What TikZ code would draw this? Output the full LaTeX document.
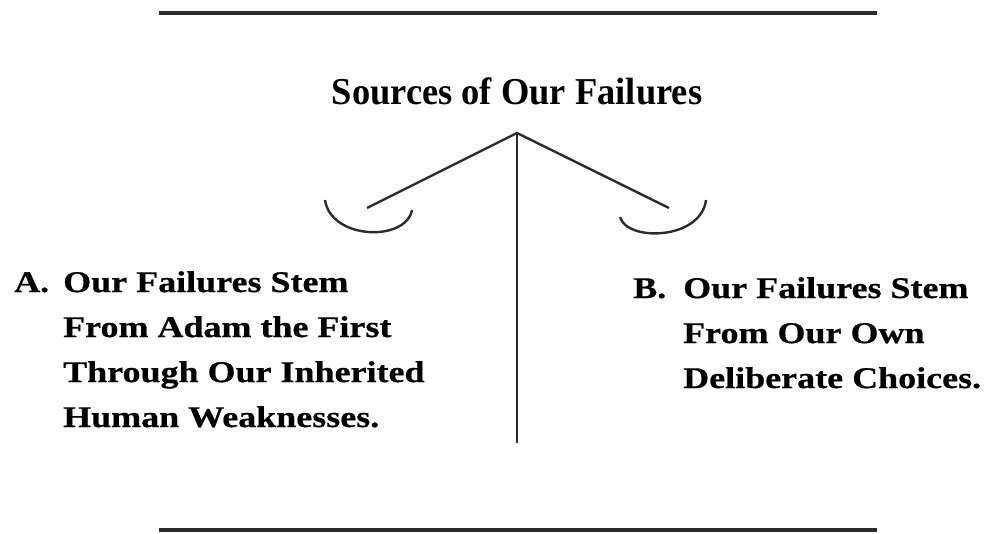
\documentclass[tikz,border=0pt]{standalone}
\usepackage{fontspec}
\setmainfont{Liberation Serif}
\newfontfamily\titlefont[FakeStretch=0.96]{Liberation Serif}
\newfontfamily\bodyfont[FakeStretch=1.2,FakeBold=0.6]{Liberation Serif}
\definecolor{ink}{HTML}{2B2B2B}
\tikzset{
  rule/.style={draw=ink, line width=4pt},
  beam/.style={draw=ink, line width=2.4pt},
  pan/.style={draw=ink, line width=2.4pt},
  titletext/.style={inner sep=0pt, anchor=base, font=\titlefont\bfseries\fontsize{38}{44}\selectfont},
  bodytext/.style={inner sep=0pt, anchor=base west, font=\bodyfont\bfseries\fontsize{30}{44.8}\selectfont},
}
\begin{document}
\begin{tikzpicture}[x=1pt, y=-1pt]
\useasboundingbox (0,0) rectangle (990,533);
% rules
\coordinate (tl) at (159,13);
\coordinate (tr) at (877,13);
\coordinate (bl) at (159,530);
\coordinate (br) at (877,530);
\draw[rule] (tl) -- (tr);
\draw[rule] (bl) -- (br);
% title
\node[titletext] (title) at (517,104) {Sources of Our Failures};
% balance
\coordinate (apex) at (517,133);
\coordinate (foot) at (517,443);
\coordinate (larm) at (367,208);
\coordinate (rarm) at (669,208);
\draw[beam] (apex) -- (foot);
\draw[beam] (larm) -- (apex) -- (rarm);
\coordinate (lp1) at (325,200);
\coordinate (lp2) at (412,210);
\coordinate (rp1) at (620,217);
\coordinate (rp2) at (706,200);
\draw[pan] (lp1) .. controls (331,240) and (406,242) .. (lp2);
\draw[pan] (rp1) .. controls (627,242) and (701,240) .. (rp2);
% A
\node[bodytext] (alabel) at (14,292) {A.};
\node[bodytext] (a1) at (63,292) {Our Failures Stem};
\node[bodytext] (a2) at (63,337) {From Adam the First};
\node[bodytext] (a3) at (63,382) {Through Our Inherited};
\node[bodytext] (a4) at (63,427) {Human Weaknesses.};
% B
\node[bodytext] (blabel) at (633,298) {B.};
\node[bodytext] (b1) at (683,298) {Our Failures Stem};
\node[bodytext] (b2) at (683,343) {From Our Own};
\node[bodytext] (b3) at (683,388) {Deliberate Choices.};
\end{tikzpicture}
\end{document}
